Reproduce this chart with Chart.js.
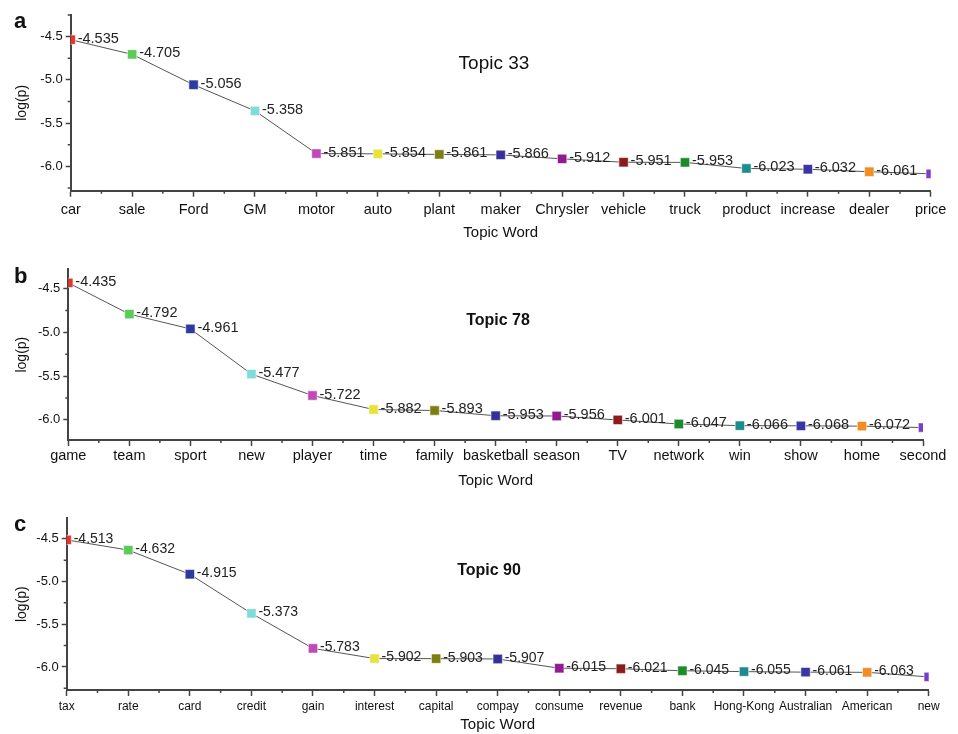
<!DOCTYPE html>
<html>
<head>
<meta charset="utf-8">
<script src="https://cdn.jsdelivr.net/npm/chart.js@4.4.1/dist/chart.umd.min.js"></script>
<style>
  html, body { margin: 0; padding: 0; background: #fff; }
  #wrap { position: relative; width: 958px; height: 734px; font-family: "Liberation Sans", Arial, sans-serif; color: #111; }
  canvas { position: absolute; left: 0; }
  .letter { position: absolute; font-weight: bold; font-size: 22px; line-height: 1; }
  .topic { position: absolute; transform: translate(-50%, -50%); white-space: nowrap; line-height: 1; }
</style>
</head>
<body>
<div id="wrap">
  <canvas id="chartA" width="958" height="245" style="top:0px"></canvas>
  <canvas id="chartB" width="958" height="245" style="top:245px"></canvas>
  <canvas id="chartC" width="958" height="244" style="top:490px"></canvas>
  <div class="letter" style="left:14px;top:10px">a</div>
  <div class="letter" style="left:14px;top:265px">b</div>
  <div class="letter" style="left:14px;top:513px">c</div>
  <div class="topic" style="left:494px;top:62px;font-size:19px">Topic 33</div>
  <div class="topic" style="left:498px;top:320px;font-size:16px;font-weight:bold">Topic 78</div>
  <div class="topic" style="left:489px;top:570px;font-size:16px;font-weight:bold">Topic 90</div>
</div>
<script>
const wordsA = ["car", "sale", "Ford", "GM", "motor", "auto", "plant", "maker", "Chrysler", "vehicle", "truck", "product", "increase", "dealer", "price"];
const valuesA = [-4.535, -4.705, -5.056, -5.358, -5.851, -5.854, -5.861, -5.866, -5.912, -5.951, -5.953, -6.023, -6.032, -6.061, -6.085];

const wordsB = ["game", "team", "sport", "new", "player", "time", "family", "basketball", "season", "TV", "network", "win", "show", "home", "second"];
const valuesB = [-4.435, -4.792, -4.961, -5.477, -5.722, -5.882, -5.893, -5.953, -5.956, -6.001, -6.047, -6.066, -6.068, -6.072, -6.088];

const wordsC = ["tax", "rate", "card", "credit", "gain", "interest", "capital", "compay", "consume", "revenue", "bank", "Hong-Kong", "Australian", "American", "new"];
const valuesC = [-4.513, -4.632, -4.915, -5.373, -5.783, -5.902, -5.903, -5.907, -6.015, -6.021, -6.045, -6.055, -6.061, -6.063, -6.117];

const markerColors = ["#e8322c", "#5ccc58", "#2d3a9e", "#80dcd8", "#c048b8", "#e6e43c", "#7d7d12", "#38309a",
  "#901c90", "#8c1c1c", "#1c8c28", "#1c8c8c", "#3a34a4", "#f48c24", "#7c3cc8"];

const FONT = "'Liberation Sans', Arial, sans-serif";

// value labels next to each marker (last point has none in the figure)
const valueLabels = {
  id: "valueLabels",
  afterDatasetsDraw(chart, args, opts) {
    const meta = chart.getDatasetMeta(0);
    const data = chart.data.datasets[0].data;
    const ctx = chart.ctx;
    ctx.save();
    ctx.font = opts.size + "px " + FONT;
    ctx.fillStyle = "#222";
    ctx.textBaseline = "middle";
    meta.data.forEach((pt, i) => {
      if (i === data.length - 1) return;
      ctx.fillText(data[i].toFixed(3), pt.x + 7, pt.y - 1);
    });
    ctx.restore();
  },
};

// small ticks between the labelled ones
const minorTicks = {
  id: "minorTicks",
  afterDraw(chart) {
    const { ctx } = chart;
    const x = chart.scales.x;
    const y = chart.scales.y;
    ctx.save();
    ctx.strokeStyle = "#444";
    ctx.lineWidth = 1.5;
    ctx.beginPath();
    for (let v = -4.25; v > y.min; v -= 0.5) {
      if (v > y.max) continue;
      const py = y.getPixelForValue(v);
      ctx.moveTo(x.left - 3, py);
      ctx.lineTo(x.left, py);
    }
    for (let i = 0.5; i < chart.data.labels.length - 1; i++) {
      const px = x.getPixelForValue(i);
      ctx.moveTo(px, y.bottom);
      ctx.lineTo(px, y.bottom + 3);
    }
    ctx.stroke();
    ctx.restore();
  },
};

function makePanel(id, words, values, cfg) {
  const canvas = document.getElementById(id);
  return new Chart(canvas.getContext("2d"), {
    type: "line",
    data: {
      labels: words,
      datasets: [{
        data: values,
        borderColor: "#555",
        borderWidth: 1,
        tension: 0,
        pointStyle: "rect",
        pointRadius: 6.6,
        pointBackgroundColor: markerColors,
        pointBorderColor: markerColors.map(() => "rgba(255,255,255,0.55)"),
        pointBorderWidth: 1,
        clip: 0,
      }],
    },
    options: {
      responsive: false,
      animation: false,
      devicePixelRatio: 1,
      layout: { padding: { left: 0, right: cfg.right, top: cfg.top, bottom: 0 } },
      plugins: {
        legend: { display: false },
        tooltip: { enabled: false },
        valueLabels: { size: cfg.labelSize },
      },
      scales: {
        x: {
          type: "category",
          offset: false,
          afterFit: (s) => { s.height = cfg.bottomH; },
          grid: { display: true, drawOnChartArea: false, offset: false, tickLength: 6, tickColor: "#444", tickWidth: 1.5 },
          border: { display: true, color: "#444", width: 2 },
          ticks: {
            autoSkip: false, maxRotation: 0, minRotation: 0, padding: cfg.xPad,
            color: "#111", font: { family: FONT, size: cfg.xTickSize },
          },
          title: {
            display: true, text: "Topic Word", color: "#111",
            font: { family: FONT, size: 15 }, padding: { top: 0, bottom: cfg.titlePad },
          },
        },
        y: {
          min: cfg.min,
          max: cfg.max,
          afterFit: (s) => { s.width = cfg.left; },
          grid: { display: true, drawOnChartArea: false, tickLength: 5, tickColor: "#444", tickWidth: 1.5 },
          border: { display: true, color: "#444", width: 2 },
          ticks: {
            stepSize: 0.5, includeBounds: false, padding: 3, color: "#111",
            font: { family: FONT, size: 13 },
            callback: (v) => Number(v).toFixed(1),
          },
          title: {
            display: true, text: "log(p)", color: "#111",
            font: { family: FONT, size: 14 }, padding: { top: 14, bottom: 0 },
          },
        },
      },
    },
    plugins: [valueLabels, minorTicks],
  });
}

makePanel("chartA", wordsA, valuesA, {
  left: 70.7, right: 27.3, top: 15, bottomH: 54.3, min: -6.28, max: -4.25,
  xPad: 5, titlePad: 3, xTickSize: 14.5, labelSize: 14.5,
});
makePanel("chartB", wordsB, valuesB, {
  left: 68.3, right: 35, top: 24.3, bottomH: 50, min: -6.23, max: -4.28,
  xPad: 1, titlePad: 0, xTickSize: 14.5, labelSize: 14.5,
});
makePanel("chartC", wordsC, valuesC, {
  left: 66.7, right: 29.3, top: 28.3, bottomH: 44, min: -6.27, max: -4.26,
  xPad: 3.5, titlePad: 0, xTickSize: 12, labelSize: 14,
});
</script>
</body>
</html>
